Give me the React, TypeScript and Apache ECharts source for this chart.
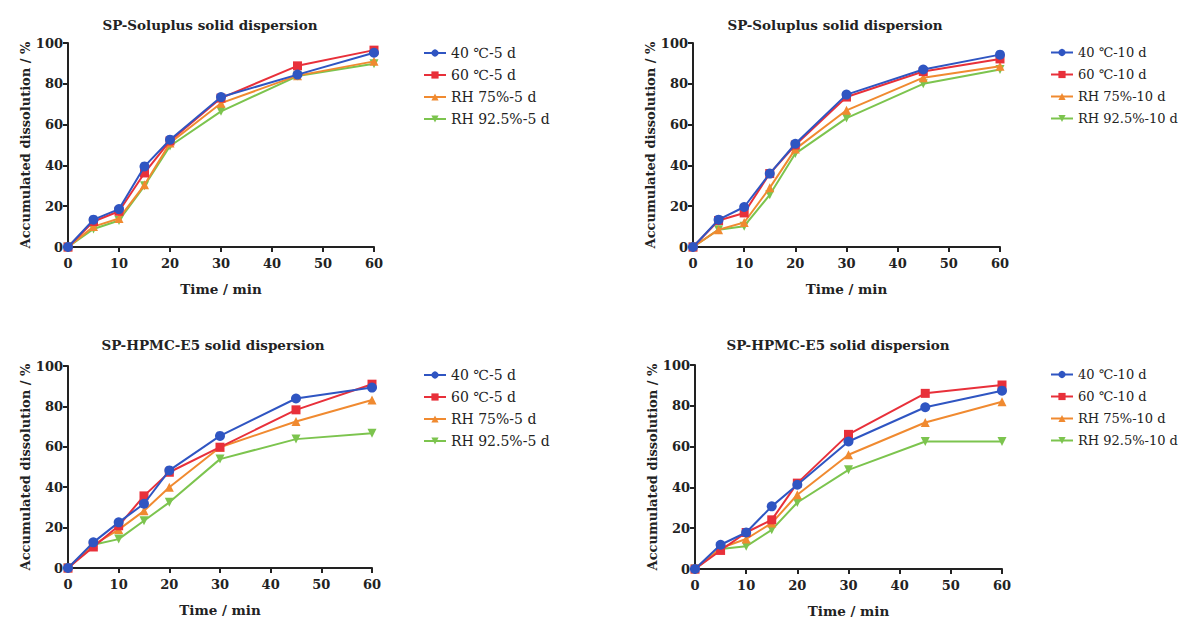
import React, { useEffect, useRef } from "react";
import * as echarts from "echarts";

const times = [0, 5, 10, 15, 20, 30, 45, 60];

const titles = [
  "SP-Soluplus solid dispersion",
  "SP-Soluplus solid dispersion",
  "SP-HPMC-E5 solid dispersion",
  "SP-HPMC-E5 solid dispersion",
];

const names5d = ["40 ℃-5 d", "60 ℃-5 d", "RH 75%-5 d", "RH 92.5%-5 d"];
const names10d = ["40 ℃-10 d", "60 ℃-10 d", "RH 75%-10 d", "RH 92.5%-10 d"];

// Panel 1: SP-Soluplus, 5 d
const sol5_40 = [0, 13.4, 18.6, 39.5, 52.6, 73.5, 84.5, 95.2];
const sol5_60 = [0, 12.5, 17.5, 36.3, 52, 73, 88.8, 96.5];
const sol5_75 = [0, 10, 14, 30.5, 51, 70.5, 84, 91];
const sol5_925 = [0, 8.8, 13, 30, 49.5, 66.5, 83.8, 89.8];

// Panel 2: SP-Soluplus, 10 d
const sol10_40 = [0, 13.4, 19.6, 36, 50.6, 74.7, 87, 94.3];
const sol10_60 = [0, 13, 16.7, 36, 50, 73.5, 86, 92.2];
const sol10_75 = [0, 8.5, 12, 29, 48, 67, 83, 88.6];
const sol10_925 = [0, 8.5, 10.2, 25.6, 45.8, 63.2, 80, 87];

// Panel 3: SP-HPMC-E5, 5 d
const hp5_40 = [0, 12.7, 22.6, 31.8, 48.3, 65.4, 83.9, 89.3];
const hp5_60 = [0, 10.4, 20.9, 35.7, 47.4, 59.8, 78.3, 91];
const hp5_75 = [0, 11.5, 19, 28.3, 40, 59.8, 72.5, 83.2];
const hp5_925 = [0, 11.5, 14.3, 23.4, 32.5, 53.9, 63.8, 66.7];

// Panel 4: SP-HPMC-E5, 10 d
const hp10_40 = [0, 11.9, 17.9, 30.7, 41.3, 62.5, 79.3, 87.4];
const hp10_60 = [0, 9.1, 17.9, 24.1, 42.1, 66, 86.1, 90.2];
const hp10_75 = [0, 10.3, 14.7, 22.5, 36.4, 56, 71.8, 82];
const hp10_925 = [0, 9.8, 11.1, 19.2, 32.6, 48.6, 62.5, 62.5];

const panelData = [
  [sol5_40, sol5_60, sol5_75, sol5_925],
  [sol10_40, sol10_60, sol10_75, sol10_925],
  [hp5_40, hp5_60, hp5_75, hp5_925],
  [hp10_40, hp10_60, hp10_75, hp10_925],
];
const panelNames = [names5d, names10d, names5d, names10d];

const colors = ["#2f55c2", "#e8303a", "#f08a30", "#7cc44e"];
const symbols = ["circle", "rect", "triangle", "triangle"];
const rotates = [0, 0, 0, 180];
const sizes = [10, 9, 9, 9];

const grids = [
  { left: 68, top: 43, width: 306, height: 204 },
  { left: 693, top: 43, width: 307, height: 204 },
  { left: 68, top: 366, width: 304, height: 202 },
  { left: 695, top: 365, width: 307, height: 204 },
];
const titlePos = [
  [210, 25],
  [835, 25],
  [213, 345],
  [838, 345],
];
const legendPos = [
  [423, 46],
  [1050, 46],
  [423, 368],
  [1050, 368],
];
const legendFont = [14, 13, 14, 13];

const FONT = "DejaVu Serif";

export default function App() {
  const ref = useRef<HTMLDivElement>(null);
  useEffect(() => {
    document.body.style.margin = "0";
    const chart = echarts.init(ref.current!, null, { renderer: "svg" });
    const xAxis: any[] = [];
    const yAxis: any[] = [];
    const series: any[] = [];
    const legend: any[] = [];
    const graphic: any[] = [];
    grids.forEach((g, i) => {
      xAxis.push({
        gridIndex: i,
        type: "value",
        min: 0,
        max: 60,
        interval: 10,
        name: "Time / min",
        nameLocation: "middle",
        nameGap: 35,
        nameTextStyle: { fontFamily: FONT, fontSize: 13.5, fontWeight: "bold", color: "#222" },
        axisLine: { show: true, lineStyle: { color: "#222", width: 2 } },
        axisTick: { show: true, length: 5, lineStyle: { color: "#222", width: 2 } },
        axisLabel: { fontFamily: FONT, fontSize: 13, fontWeight: "bold", color: "#222", margin: 10 },
        splitLine: { show: false },
      });
      yAxis.push({
        gridIndex: i,
        type: "value",
        min: 0,
        max: 100,
        interval: 20,
        name: "Accumulated dissolution / %",
        nameLocation: "middle",
        nameGap: 33,
        nameTextStyle: { fontFamily: FONT, fontSize: 13, fontWeight: "bold", color: "#222" },
        axisLine: { show: true, lineStyle: { color: "#222", width: 2 } },
        axisTick: { show: true, length: 5, lineStyle: { color: "#222", width: 2 } },
        axisLabel: { fontFamily: FONT, fontSize: 13, fontWeight: "bold", color: "#222", margin: 5 },
        splitLine: { show: false },
      });
      const names = panelNames[i];
      for (let k = 3; k >= 0; k--) {
        series.push({
          type: "line",
          name: names[k],
          xAxisIndex: i,
          yAxisIndex: i,
          data: times.map((t, j) => [t, panelData[i][k][j]]),
          symbol: symbols[k],
          symbolSize: sizes[k],
          symbolRotate: rotates[k],
          showAllSymbol: true,
          lineStyle: { color: colors[k], width: 2 },
          itemStyle: { color: colors[k] },
          z: 10 - k,
        });
      }
      legend.push({
        orient: "vertical",
        left: legendPos[i][0],
        top: legendPos[i][1],
        padding: 0,
        itemWidth: 22,
        itemHeight: 9,
        itemGap: 22 - legendFont[i],
        data: names,
        selectedMode: false,
        textStyle: { fontFamily: FONT, fontSize: legendFont[i], color: "#222" },
      });
      graphic.push({
        type: "text",
        x: titlePos[i][0],
        y: titlePos[i][1],
        style: {
          text: titles[i],
          fontFamily: FONT,
          fontSize: 13.5,
          fontWeight: "bold",
          fill: "#222",
          textAlign: "center",
          textVerticalAlign: "middle",
        },
      });
    });
    chart.setOption({
      animation: false,
      backgroundColor: "#ffffff",
      grid: grids.map((g) => ({ ...g, containLabel: false })),
      xAxis,
      yAxis,
      series,
      legend,
      graphic,
    });
    return () => chart.dispose();
  }, []);
  return <div ref={ref} style={{ width: 1181, height: 620 }} />;
}
